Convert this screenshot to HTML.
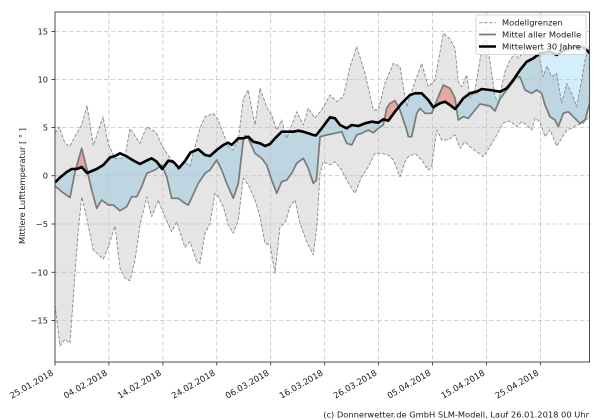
<!DOCTYPE html>
<html>
<head>
<meta charset="utf-8">
<style>
  html, body { margin: 0; padding: 0; background: #ffffff; }
  svg { display: block; }
  text { font-family: "DejaVu Sans", "Liberation Sans", sans-serif; fill: #1a1a1a; }
</style>
</head>
<body>
<svg width="600" height="420" viewBox="0 0 600 420" xmlns="http://www.w3.org/2000/svg">
  <defs>
    <clipPath id="ax"><rect x="55" y="12" width="534.5" height="350"/></clipPath>
    <clipPath id="belowClim">
      <polygon points="55,182.5 60,177.5 66.7,172 71.7,169 76.7,169 81.7,167 87,173 96.7,169 103.3,165 110,157.5 115,156 120,153.3 126,156 133.3,160.5 140,164 146.7,160.5 151.7,158.3 156.7,161.7 162.2,169 168.3,160.7 173.3,161.7 179,168 185,161 190.5,152.5 198.3,149.3 205,155 210,156 216.7,150 223.3,145 228.3,142.7 231.7,145 238.3,138.3 243.3,138.3 248.3,136.7 253.3,141.7 260,143.3 265,146 270,144 275,138.3 281.7,131.7 288.3,131.7 293.3,131.7 298.3,130.7 303.3,131.7 308.3,133.3 313.3,135 316,135.5 321.7,128.3 330,117.3 335,118.3 340,125 346.7,128.3 351.7,125 358.3,126 365,123.3 371.7,121.7 378.3,122.7 383.3,119.3 388.3,120.7 395,111.7 401.7,103.3 410,95 415,93.3 421.7,93.3 428.3,100 433.3,107.3 440,103.3 445,101.7 450,105 455,109 458.3,105 463.3,98.3 470,93.3 476.7,91.7 481.7,89 490,90 500,91.7 506.7,88.3 513.3,80 520,70 526.7,61.7 533.3,58.3 540,53.3 545,52.5 550,51.7 556.7,55 561.7,51.7 568.3,48.3 575,46.7 581.7,46.7 586.7,50 589.7,53.3 589.7,420 55,420"/>
    </clipPath>
    <clipPath id="aboveClim">
      <polygon points="55,182.5 60,177.5 66.7,172 71.7,169 76.7,169 81.7,167 87,173 96.7,169 103.3,165 110,157.5 115,156 120,153.3 126,156 133.3,160.5 140,164 146.7,160.5 151.7,158.3 156.7,161.7 162.2,169 168.3,160.7 173.3,161.7 179,168 185,161 190.5,152.5 198.3,149.3 205,155 210,156 216.7,150 223.3,145 228.3,142.7 231.7,145 238.3,138.3 243.3,138.3 248.3,136.7 253.3,141.7 260,143.3 265,146 270,144 275,138.3 281.7,131.7 288.3,131.7 293.3,131.7 298.3,130.7 303.3,131.7 308.3,133.3 313.3,135 316,135.5 321.7,128.3 330,117.3 335,118.3 340,125 346.7,128.3 351.7,125 358.3,126 365,123.3 371.7,121.7 378.3,122.7 383.3,119.3 388.3,120.7 395,111.7 401.7,103.3 410,95 415,93.3 421.7,93.3 428.3,100 433.3,107.3 440,103.3 445,101.7 450,105 455,109 458.3,105 463.3,98.3 470,93.3 476.7,91.7 481.7,89 490,90 500,91.7 506.7,88.3 513.3,80 520,70 526.7,61.7 533.3,58.3 540,53.3 545,52.5 550,51.7 556.7,55 561.7,51.7 568.3,48.3 575,46.7 581.7,46.7 586.7,50 589.7,53.3 589.7,0 55,0"/>
    </clipPath>
  </defs>

  <g clip-path="url(#ax)">
    <!-- blue: mean colder than climate -->
    <g clip-path="url(#belowClim)">
      <polygon fill="#d3effb" points="55,186 61.7,191.7 70,197.5 75,172 81.7,148.3 86.7,168.3 91.7,190 96.7,208.3 101.7,200 108.3,205 113.3,205 120,210.7 126.7,206.7 131.7,196.7 136.7,196.7 141.7,186.7 146.7,173.3 155,170 161.7,165 166.7,176.7 171.7,198.3 178.3,198.3 185,203.3 188.3,205 198.3,183.3 205,173.3 210,170 216.7,160 221.7,170 226.7,183.3 233.3,198.3 238.3,183.3 243.3,140 245.5,135.5 248.3,138.3 255,153.3 261.7,158.3 266.7,165 271.7,180 276.7,193.3 281.7,181.7 286.7,180 291.7,173.3 296.7,163.3 303.3,158.3 308.3,168.3 313.3,183.3 316.5,180 320,136.7 326.7,135 335,133.3 341.7,131.7 346.7,143.3 351.7,145 356.7,135 361.7,133.3 368.3,130 373.3,132.7 378.3,128.3 383.3,125 386.7,108 390,103.3 395,100.7 400,110 403.3,120 406.7,130 408.3,136.7 411.7,136.7 416.7,113.3 420,108.3 425,113.3 431.7,113.3 435,105 438.3,96.7 443.3,85 450,88.3 455,98 458.3,120 463.3,116.7 468.3,118.3 475,110 480,104 485,105 490,106 495,111 500,99 505,92 510,86 516.7,77 520,77 525,90 531.7,93.3 536.7,90 541.7,93.3 545,105 550,116.7 555,120 558.3,126.7 563.3,113.3 568.3,111.7 573.3,116.7 580,123.3 585,120 589.7,103 589.7,0 55,0"/>
    </g>
    <!-- red: mean warmer than climate -->
    <g clip-path="url(#aboveClim)">
      <polygon fill="#ffbdb2" points="55,186 61.7,191.7 70,197.5 75,172 81.7,148.3 86.7,168.3 91.7,190 96.7,208.3 101.7,200 108.3,205 113.3,205 120,210.7 126.7,206.7 131.7,196.7 136.7,196.7 141.7,186.7 146.7,173.3 155,170 161.7,165 166.7,176.7 171.7,198.3 178.3,198.3 185,203.3 188.3,205 198.3,183.3 205,173.3 210,170 216.7,160 221.7,170 226.7,183.3 233.3,198.3 238.3,183.3 243.3,140 245.5,135.5 248.3,138.3 255,153.3 261.7,158.3 266.7,165 271.7,180 276.7,193.3 281.7,181.7 286.7,180 291.7,173.3 296.7,163.3 303.3,158.3 308.3,168.3 313.3,183.3 316.5,180 320,136.7 326.7,135 335,133.3 341.7,131.7 346.7,143.3 351.7,145 356.7,135 361.7,133.3 368.3,130 373.3,132.7 378.3,128.3 383.3,125 386.7,108 390,103.3 395,100.7 400,110 403.3,120 406.7,130 408.3,136.7 411.7,136.7 416.7,113.3 420,108.3 425,113.3 431.7,113.3 435,105 438.3,96.7 443.3,85 450,88.3 455,98 458.3,120 463.3,116.7 468.3,118.3 475,110 480,104 485,105 490,106 495,111 500,99 505,92 510,86 516.7,77 520,77 525,90 531.7,93.3 536.7,90 541.7,93.3 545,105 550,116.7 555,120 558.3,126.7 563.3,113.3 568.3,111.7 573.3,116.7 580,123.3 585,120 589.7,103 589.7,420 55,420"/>
    </g>

    <!-- model spread band (translucent gray) -->
    <polygon fill="#000000" fill-opacity="0.1" points="55,133.3 59.3,127 65,143.3 70,146 76.7,133.3 81.7,125 87,105.5 93.3,145.5 103,116.7 108.3,144 115,158.3 121.7,158.3 125,156.7 130,128.5 140,143.3 146.7,126.7 156,132.2 162.5,146.7 169,156.7 173.3,161.7 178.3,170 185,161.7 190,166.7 193.3,153.3 200,128.3 205,116.7 213.3,113.3 218.3,120 223.3,133.3 228.3,146.7 233.3,150 238.3,140 243.3,98.3 248.3,90 255,125 260,88.3 266.7,106.7 271.7,115 276.7,130 281.7,120 286.7,138.3 291.7,125 296.7,111.7 303.3,125 308.3,108.3 315,118 321.7,110 330,95 336.7,101.7 343.3,96.7 350,66.7 356.7,46.7 365,73.3 373.3,110 378.3,110 385,83.3 393.3,63.3 400,66.7 406.7,106.7 413.3,86.7 421.7,63.3 428.3,86.7 435,80 443.3,33.3 450,39 455,48.3 458.3,81.7 461.7,86.7 466.7,75 470,98.3 475,90 483,42 486.7,40 491.7,73.3 495,96.7 498.3,101.7 501.7,86.7 505,71.7 510,60 515,53.3 518.3,58.3 525,50 532,48 538.3,52 543.3,76.7 547,66 551.7,76.7 556.7,73.3 561.7,103.3 566.7,83.3 571.7,93.3 576.7,106.7 581.7,80 585,60 589.7,45 589.7,116 583.3,123.3 576.7,125 571.7,128.3 566.7,130 561.7,138.3 556.7,146 550,130 545,136.7 540,121.7 535,118.3 531.7,130 526.7,125 521.7,121.7 516.7,126.7 510,121 503.3,123 496.7,135 490,146.7 483.3,156.7 476.7,151.7 470,146.7 465,141.7 460,148.3 455,135 448.3,140 441.7,140 436.7,130 431.7,166.7 428.3,170 421.7,160 415,153.3 408.3,156.7 405,161.7 400,176.7 393.3,160 388.3,155 381.7,153.3 375,153.3 368.3,166.7 361.7,176.7 355,193.3 348.3,183.3 341.7,170 335,161.7 330,165 323.3,161.7 320,173.3 317,225 313.3,255 306,240 300,223.3 295,200 290,206.7 285,223.3 280,226.7 275,273.3 270,245 265,243.3 260,216.7 255,200 248.3,185 243.3,178.3 238.3,220 233.3,233.3 228.3,225 223.3,206.7 218.3,196.7 215,193.3 210,223.3 205,233.3 200,263.3 196.7,261.7 190,241.7 185,247.5 176.7,221.7 171.7,231.7 163.3,213.3 158.3,200 151.7,216.7 146.7,197 140,225 135,260 130,280.7 125,278 120,268 115,226 108.3,246.7 103.3,259 93.3,250 85,210 81.7,197 78.3,230 75,273.3 70,343.3 65,339.3 60,346 55,305"/>

    <!-- grid -->
    <g stroke="#c4c4c4" stroke-width="0.8" stroke-dasharray="4.5,2.5" fill="none">
      <line x1="55" y1="31.5" x2="589.5" y2="31.5"/>
      <line x1="55" y1="79.5" x2="589.5" y2="79.5"/>
      <line x1="55" y1="127.5" x2="589.5" y2="127.5"/>
      <line x1="55" y1="175.7" x2="589.5" y2="175.7"/>
      <line x1="55" y1="224" x2="589.5" y2="224"/>
      <line x1="55" y1="272.3" x2="589.5" y2="272.3"/>
      <line x1="55" y1="320.5" x2="589.5" y2="320.5"/>
      <line x1="108.9" y1="12" x2="108.9" y2="362"/>
      <line x1="162.9" y1="12" x2="162.9" y2="362"/>
      <line x1="216.8" y1="12" x2="216.8" y2="362"/>
      <line x1="270.7" y1="12" x2="270.7" y2="362"/>
      <line x1="324.7" y1="12" x2="324.7" y2="362"/>
      <line x1="378.6" y1="12" x2="378.6" y2="362"/>
      <line x1="432.5" y1="12" x2="432.5" y2="362"/>
      <line x1="486.4" y1="12" x2="486.4" y2="362"/>
      <line x1="540.4" y1="12" x2="540.4" y2="362"/>
    </g>

    <!-- model bounds (dashed) -->
    <g fill="none" stroke="#8a8a8a" stroke-width="0.9" stroke-dasharray="3.5,1.6" stroke-linejoin="round">
      <polyline points="55,133.3 59.3,127 65,143.3 70,146 76.7,133.3 81.7,125 87,105.5 93.3,145.5 103,116.7 108.3,144 115,158.3 121.7,158.3 125,156.7 130,128.5 140,143.3 146.7,126.7 156,132.2 162.5,146.7 169,156.7 173.3,161.7 178.3,170 185,161.7 190,166.7 193.3,153.3 200,128.3 205,116.7 213.3,113.3 218.3,120 223.3,133.3 228.3,146.7 233.3,150 238.3,140 243.3,98.3 248.3,90 255,125 260,88.3 266.7,106.7 271.7,115 276.7,130 281.7,120 286.7,138.3 291.7,125 296.7,111.7 303.3,125 308.3,108.3 315,118 321.7,110 330,95 336.7,101.7 343.3,96.7 350,66.7 356.7,46.7 365,73.3 373.3,110 378.3,110 385,83.3 393.3,63.3 400,66.7 406.7,106.7 413.3,86.7 421.7,63.3 428.3,86.7 435,80 443.3,33.3 450,39 455,48.3 458.3,81.7 461.7,86.7 466.7,75 470,98.3 475,90 483,42 486.7,40 491.7,73.3 495,96.7 498.3,101.7 501.7,86.7 505,71.7 510,60 515,53.3 518.3,58.3 525,50 532,48 538.3,52 543.3,76.7 547,66 551.7,76.7 556.7,73.3 561.7,103.3 566.7,83.3 571.7,93.3 576.7,106.7 581.7,80 585,60 589.7,45"/>
      <polyline points="55,305 60,346 65,339.3 70,343.3 75,273.3 78.3,230 81.7,197 85,210 93.3,250 103.3,259 108.3,246.7 115,226 120,268 125,278 130,280.7 135,260 140,225 146.7,197 151.7,216.7 158.3,200 163.3,213.3 171.7,231.7 176.7,221.7 185,247.5 190,241.7 196.7,261.7 200,263.3 205,233.3 210,223.3 215,193.3 218.3,196.7 223.3,206.7 228.3,225 233.3,233.3 238.3,220 243.3,178.3 248.3,185 255,200 260,216.7 265,243.3 270,245 275,273.3 280,226.7 285,223.3 290,206.7 295,200 300,223.3 306,240 313.3,255 317,225 320,173.3 323.3,161.7 330,165 335,161.7 341.7,170 348.3,183.3 355,193.3 361.7,176.7 368.3,166.7 375,153.3 381.7,153.3 388.3,155 393.3,160 400,176.7 405,161.7 408.3,156.7 415,153.3 421.7,160 428.3,170 431.7,166.7 436.7,130 441.7,140 448.3,140 455,135 460,148.3 465,141.7 470,146.7 476.7,151.7 483.3,156.7 490,146.7 496.7,135 503.3,123 510,121 516.7,126.7 521.7,121.7 526.7,125 531.7,130 535,118.3 540,121.7 545,136.7 550,130 556.7,146 561.7,138.3 566.7,130 571.7,128.3 576.7,125 583.3,123.3 589.7,116"/>
    </g>

    <!-- mean of all models -->
    <polyline fill="none" stroke="#7a7a7a" stroke-width="1.7" stroke-linejoin="round" points="55,186 61.7,191.7 70,197.5 75,172 81.7,148.3 86.7,168.3 91.7,190 96.7,208.3 101.7,200 108.3,205 113.3,205 120,210.7 126.7,206.7 131.7,196.7 136.7,196.7 141.7,186.7 146.7,173.3 155,170 161.7,165 166.7,176.7 171.7,198.3 178.3,198.3 185,203.3 188.3,205 198.3,183.3 205,173.3 210,170 216.7,160 221.7,170 226.7,183.3 233.3,198.3 238.3,183.3 243.3,140 245.5,135.5 248.3,138.3 255,153.3 261.7,158.3 266.7,165 271.7,180 276.7,193.3 281.7,181.7 286.7,180 291.7,173.3 296.7,163.3 303.3,158.3 308.3,168.3 313.3,183.3 316.5,180 320,136.7 326.7,135 335,133.3 341.7,131.7 346.7,143.3 351.7,145 356.7,135 361.7,133.3 368.3,130 373.3,132.7 378.3,128.3 383.3,125 386.7,108 390,103.3 395,100.7 400,110 403.3,120 406.7,130 408.3,136.7 411.7,136.7 416.7,113.3 420,108.3 425,113.3 431.7,113.3 435,105 438.3,96.7 443.3,85 450,88.3 455,98 458.3,120 463.3,116.7 468.3,118.3 475,110 480,104 485,105 490,106 495,111 500,99 505,92 510,86 516.7,77 520,77 525,90 531.7,93.3 536.7,90 541.7,93.3 545,105 550,116.7 555,120 558.3,126.7 563.3,113.3 568.3,111.7 573.3,116.7 580,123.3 585,120 589.7,103"/>

    <!-- 30-year mean -->
    <polyline fill="none" stroke="#000000" stroke-width="2.6" stroke-linejoin="round" points="55,182.5 60,177.5 66.7,172 71.7,169 76.7,169 81.7,167 87,173 96.7,169 103.3,165 110,157.5 115,156 120,153.3 126,156 133.3,160.5 140,164 146.7,160.5 151.7,158.3 156.7,161.7 162.2,169 168.3,160.7 173.3,161.7 179,168 185,161 190.5,152.5 198.3,149.3 205,155 210,156 216.7,150 223.3,145 228.3,142.7 231.7,145 238.3,138.3 243.3,138.3 248.3,136.7 253.3,141.7 260,143.3 265,146 270,144 275,138.3 281.7,131.7 288.3,131.7 293.3,131.7 298.3,130.7 303.3,131.7 308.3,133.3 313.3,135 316,135.5 321.7,128.3 330,117.3 335,118.3 340,125 346.7,128.3 351.7,125 358.3,126 365,123.3 371.7,121.7 378.3,122.7 383.3,119.3 388.3,120.7 395,111.7 401.7,103.3 410,95 415,93.3 421.7,93.3 428.3,100 433.3,107.3 440,103.3 445,101.7 450,105 455,109 458.3,105 463.3,98.3 470,93.3 476.7,91.7 481.7,89 490,90 500,91.7 506.7,88.3 513.3,80 520,70 526.7,61.7 533.3,58.3 540,53.3 545,52.5 550,51.7 556.7,55 561.7,51.7 568.3,48.3 575,46.7 581.7,46.7 586.7,50 589.7,53.3"/>
  </g>

  <!-- legend -->
  <rect x="476" y="15" width="110" height="39.5" rx="2" ry="2" fill="#ffffff" fill-opacity="0.8" stroke="#cccccc" stroke-width="0.8"/>
  <line x1="479" y1="22.7" x2="496" y2="22.7" stroke="#8a8a8a" stroke-width="0.9" stroke-dasharray="3.5,1.6"/>
  <line x1="479" y1="34.5" x2="496" y2="34.5" stroke="#7a7a7a" stroke-width="1.7"/>
  <line x1="479" y1="46.5" x2="496" y2="46.5" stroke="#000000" stroke-width="2.6"/>
  <text x="502" y="25.7" font-size="8.3">Modellgrenzen</text>
  <text x="502" y="37.5" font-size="8.3">Mittel aller Modelle</text>
  <text x="502" y="49.5" font-size="8.3">Mittelwert 30 Jahre</text>

  <!-- spines -->
  <rect x="55" y="12" width="534.5" height="350" fill="none" stroke="#3a3a3a" stroke-width="0.9"/>

  <!-- y ticks -->
  <g stroke="#3a3a3a" stroke-width="0.9">
    <line x1="51.5" y1="31.5" x2="55" y2="31.5"/>
    <line x1="51.5" y1="79.5" x2="55" y2="79.5"/>
    <line x1="51.5" y1="127.5" x2="55" y2="127.5"/>
    <line x1="51.5" y1="175.7" x2="55" y2="175.7"/>
    <line x1="51.5" y1="224" x2="55" y2="224"/>
    <line x1="51.5" y1="272.3" x2="55" y2="272.3"/>
    <line x1="51.5" y1="320.5" x2="55" y2="320.5"/>
  </g>
  <g font-size="8.3" text-anchor="end">
    <text x="48" y="34.5">15</text>
    <text x="48" y="82.5">10</text>
    <text x="48" y="130.5">5</text>
    <text x="48" y="178.7">0</text>
    <text x="48" y="227">−5</text>
    <text x="48" y="275.3">−10</text>
    <text x="48" y="323.5">−15</text>
  </g>

  <!-- x ticks -->
  <g stroke="#3a3a3a" stroke-width="0.9">
    <line x1="55" y1="362" x2="55" y2="365.5"/>
    <line x1="108.9" y1="362" x2="108.9" y2="365.5"/>
    <line x1="162.9" y1="362" x2="162.9" y2="365.5"/>
    <line x1="216.8" y1="362" x2="216.8" y2="365.5"/>
    <line x1="270.7" y1="362" x2="270.7" y2="365.5"/>
    <line x1="324.7" y1="362" x2="324.7" y2="365.5"/>
    <line x1="378.6" y1="362" x2="378.6" y2="365.5"/>
    <line x1="432.5" y1="362" x2="432.5" y2="365.5"/>
    <line x1="486.4" y1="362" x2="486.4" y2="365.5"/>
    <line x1="540.4" y1="362" x2="540.4" y2="365.5"/>
  </g>
  <g font-size="8.5" text-anchor="end">
    <text transform="translate(54,374.6) rotate(-30)">25.01.2018</text>
    <text transform="translate(107.9,374.6) rotate(-30)">04.02.2018</text>
    <text transform="translate(161.9,374.6) rotate(-30)">14.02.2018</text>
    <text transform="translate(215.8,374.6) rotate(-30)">24.02.2018</text>
    <text transform="translate(269.7,374.6) rotate(-30)">06.03.2018</text>
    <text transform="translate(323.7,374.6) rotate(-30)">16.03.2018</text>
    <text transform="translate(377.6,374.6) rotate(-30)">26.03.2018</text>
    <text transform="translate(431.5,374.6) rotate(-30)">05.04.2018</text>
    <text transform="translate(485.4,374.6) rotate(-30)">15.04.2018</text>
    <text transform="translate(539.4,374.6) rotate(-30)">25.04.2018</text>
  </g>

  <!-- y axis label -->
  <text transform="translate(25,186) rotate(-90)" font-size="8.3" text-anchor="middle">Mittlere Lufttemperatur [ ° ]</text>

  <!-- credit -->
  <text x="589" y="417.5" font-size="8.3" text-anchor="end">(c) Donnerwetter.de GmbH SLM-Modell, Lauf 26.01.2018 00 Uhr</text>
</svg>
</body>
</html>
